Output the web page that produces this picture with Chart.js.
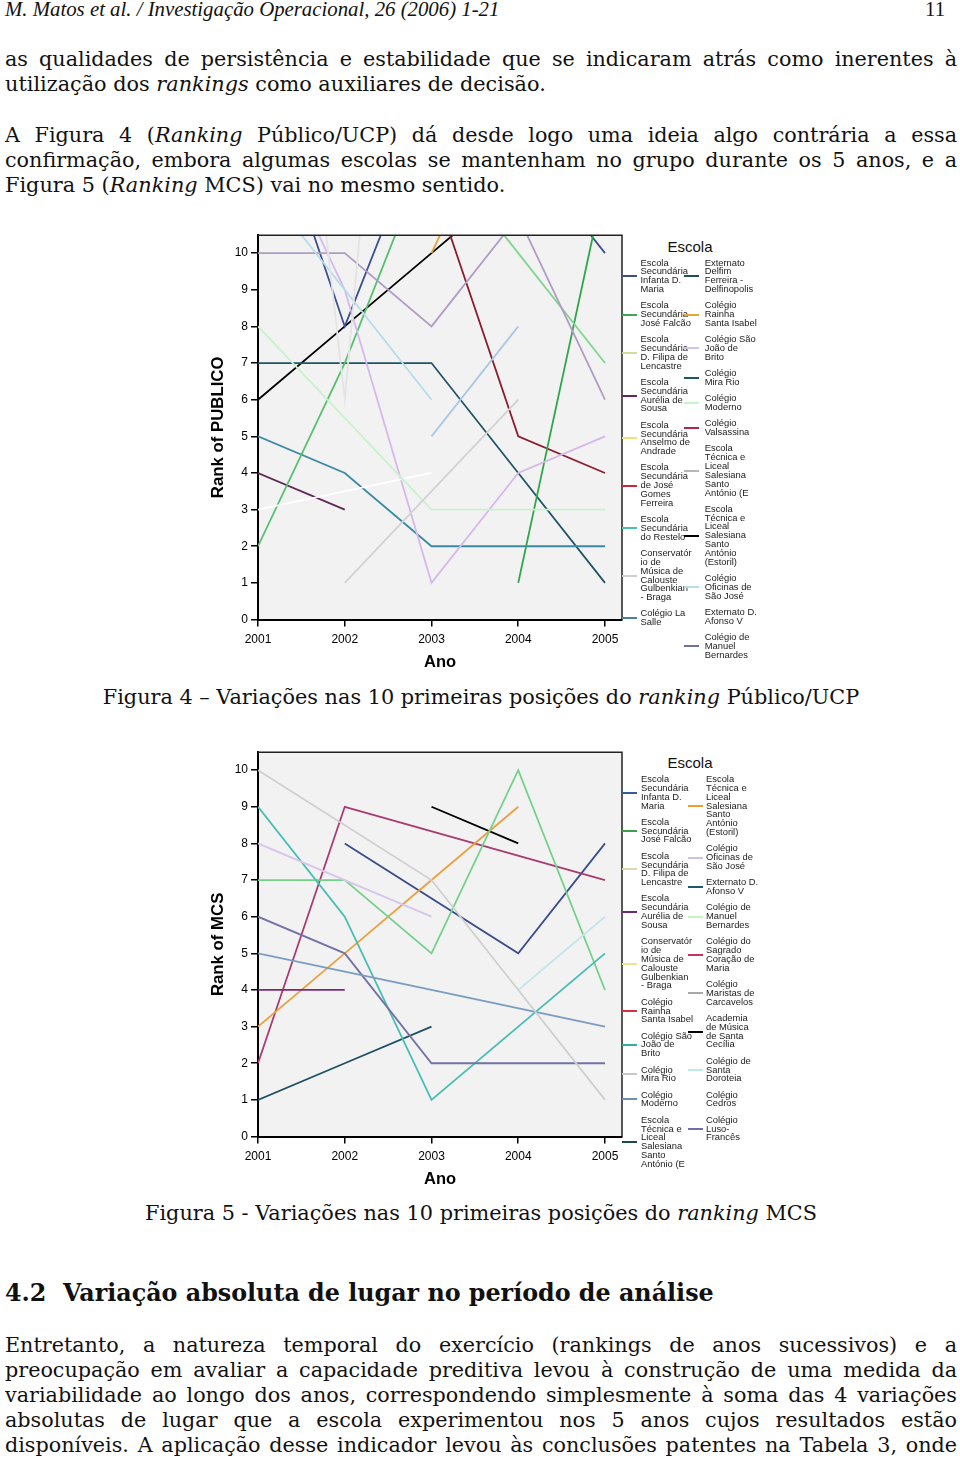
<!DOCTYPE html>
<html lang="pt">
<head>
<meta charset="UTF-8">
<title>Figuras 4 e 5 - variações nos rankings</title>
<script src="https://cdn.jsdelivr.net/npm/chart.js"></script>
<style>
  body { margin: 0; background: #fff; }
  #pagina { position: relative; width: 960px; height: 1461px; overflow: hidden; font-family: 'DejaVu Serif', serif; color: #111; }
  .ln { position: absolute; left: 5px; width: 952px; height: 25px; overflow: hidden; font-size: 20.8px; line-height: 25px; white-space: nowrap; }
  .just { text-align: justify; text-align-last: justify; white-space: normal; }
  .cent { text-align: center; }
  .tit { font-weight: bold; font-size: 23.8px; height: 30px; line-height: 30px; }
  .cabec { position: absolute; top: -1px; font-family: 'Liberation Serif', serif; font-style: italic; font-size: 20.8px; line-height: 20px; }
  .grafico { position: absolute; left: 200px; }
  .legenda { position: absolute; font-family: 'Liberation Sans', Arial, sans-serif; font-size: 9.4px; line-height: 8.85px; color: #222; }
  .legenda .item { position: relative; margin-bottom: 7.4px; white-space: nowrap; }
  .legenda .cor { position: absolute; top: 50%; height: 2px; width: 15px; margin-top: -1px; }
  .titLeg { position: absolute; font-family: 'Liberation Sans', Arial, sans-serif; font-size: 15px; line-height: 15px; width: 80px; text-align: center; color: #111; }
</style>
</head>
<body>
<div id="pagina">
  <div class="cabec" style="left:5px">M. Matos et al. / Investigação Operacional, 26 (2006) 1-21</div>
  <div class="cabec" style="left:925px;font-style:normal">11</div>

  <div class="ln just" style="top:47px">as qualidades de persistência e estabilidade que se indicaram atrás como inerentes à</div>
  <div class="ln" style="top:72px">utilização dos <i>rankings</i> como auxiliares de decisão.</div>

  <div class="ln just" style="top:123px">A Figura 4 (<i>Ranking</i> Público/UCP) dá desde logo uma ideia algo contrária a essa</div>
  <div class="ln just" style="top:148px">confirmação, embora algumas escolas se mantenham no grupo durante os 5 anos, e a</div>
  <div class="ln" style="top:173px">Figura 5 (<i>Ranking</i> MCS) vai no mesmo sentido.</div>

  <canvas id="grafPublico" class="grafico" width="425" height="455" style="top:225px"></canvas>
  <div class="titLeg" style="left:650px;top:239px">Escola</div>
  <div id="legPub1" class="legenda" style="left:640.5px;top:258.5px"></div>
  <div id="legPub2" class="legenda" style="left:704.7px;top:258.5px"></div>
  <div class="ln cent" style="top:685px">Figura 4 – Variações nas 10 primeiras posições do <i>ranking</i> Público/UCP</div>

  <canvas id="grafMcs" class="grafico" width="425" height="455" style="top:742px"></canvas>
  <div class="titLeg" style="left:650px;top:755px">Escola</div>
  <div id="legMcs1" class="legenda" style="left:641px;top:775px"></div>
  <div id="legMcs2" class="legenda" style="left:706px;top:775px"></div>
  <div class="ln cent" style="top:1201px">Figura 5 - Variações nas 10 primeiras posições do <i>ranking</i> MCS</div>

  <div class="ln tit" style="top:1278px">4.2&nbsp; Variação absoluta de lugar no período de análise</div>

  <div class="ln just" style="top:1333px">Entretanto, a natureza temporal do exercício (rankings de anos sucessivos) e a</div>
  <div class="ln just" style="top:1358px">preocupação em avaliar a capacidade preditiva levou à construção de uma medida da</div>
  <div class="ln just" style="top:1383px">variabilidade ao longo dos anos, correspondendo simplesmente à soma das 4 variações</div>
  <div class="ln just" style="top:1408px">absolutas de lugar que a escola experimentou nos 5 anos cujos resultados estão</div>
  <div class="ln just" style="top:1433px">disponíveis. A aplicação desse indicador levou às conclusões patentes na Tabela 3, onde</div>
</div>

<script>
// anos e ticks dos eixos
const years = [2001, 2002, 2003, 2004, 2005];
const rankTicks = [0, 1, 2, 3, 4, 5, 6, 7, 8, 9, 10];

// Figura 4 - ranking Publico/UCP (lugares > 10 saem pelo topo do grafico)
const pubInfanta   = [15, 8, 14, 13, 10];
const pubFalcao    = [2, 7, 13, null, null];
const pubVerde     = [null, null, null, 1, 12];
const pubVerdeClaro = [null, null, 13, 10, 7];
const pubModerno   = [8, null, 3, 3, 3];
const pubBernardes = [10, 10, 8, 11, 6];
const pubEstoril   = [6, 8, 10, 12, null];
const pubRainha    = [null, null, 10, 15, null];
const pubValsassina = [null, null, 12, 5, 4];
const pubOficinas  = [12, 9, 6, null, null];
const pubLaSalle   = [null, null, 5, 8, null];
const pubMiraRio   = [7, 7, 7, 4, 1];
const pubRestelo   = [5, 4, 2, 2, 2];
const pubAurelia   = [4, 3, null, null, null];
const pubAfonso    = [3, null, 4, null, null];
const pubConserv   = [null, 1, null, 6, null];
const pubBrito     = [14, 9, 1, 4, 5];
const pubTecnica   = [27, 6, 32, null, null];

// Figura 5 - ranking MCS
const mcsMiraRio   = [10, null, 7, 4, 1];
const mcsBrito     = [9, 6, 1, 3, 5];
const mcsOficinas  = [8, 7, 6, null, null];
const mcsFalcao    = [7, 7, 5, 10, 4];
const mcsSagrado   = [2, 9, null, null, 7];
const mcsInfanta   = [null, 8, null, 5, 8];
const mcsEstoril   = [3, 5, 7, 9, null];
const mcsAcademia  = [null, null, 9, 8, null];
const mcsLuso      = [6, 5, 2, 2, 2];
const mcsModerno   = [5, null, 4, null, 3];
const mcsAurelia   = [4, 4, null, null, null];
const mcsAfonso    = [1, 2, 3, null, null];
const mcsDoroteia  = [null, null, null, 4, 6];

// legendas (| = quebra de linha como no original)
const legPubNomes1 = ['Escola|Secundária|Infanta D.|Maria', 'Escola|Secundária|José Falcão', 'Escola|Secundária|D. Filipa de|Lencastre',
  'Escola|Secundária|Aurélia de|Sousa', 'Escola|Secundária|Anselmo de|Andrade', 'Escola|Secundária|de José|Gomes|Ferreira',
  'Escola|Secundária|do Restelo', 'Conservatór|io de|Música de|Calouste|Gulbenkian|- Braga', 'Colégio La|Salle'];
const legPubCores1 = ['#3d4f91', '#3aa856', '#d2dc98', '#5e2858', '#f0e27a', '#c8283c', '#4cc0b0', '#d0d0d0', '#4a7fa8'];
const legPubNomes2 = ['Externato|Delfim|Ferreira -|Delfinopolis', 'Colégio|Rainha|Santa Isabel', 'Colégio São|João de|Brito',
  'Colégio|Mira Rio', 'Colégio|Moderno', 'Colégio|Valsassina', 'Escola|Técnica e|Liceal|Salesiana|Santo|António (E',
  'Escola|Técnica e|Liceal|Salesiana|Santo|António|(Estoril)', 'Colégio|Oficinas de|São José', 'Externato D.|Afonso V',
  'Colégio de|Manuel|Bernardes'];
const legPubCores2 = ['#1f4f5a', '#e8a23a', '#d8c0ec', '#1f5566', '#c9f2cc', '#b02850', '#b8b8b8', '#000000', '#b4dcea', '#ffffff', '#7070a0'];

const legMcsNomes1 = ['Escola|Secundária|Infanta D.|Maria', 'Escola|Secundária|José Falcão', 'Escola|Secundária|D. Filipa de|Lencastre',
  'Escola|Secundária|Aurélia de|Sousa', 'Conservatór|io de|Música de|Calouste|Gulbenkian|- Braga', 'Colégio|Rainha|Santa Isabel',
  'Colégio São|João de|Brito', 'Colégio|Mira Rio', 'Colégio|Moderno', 'Escola|Técnica e|Liceal|Salesiana|Santo|António (E'];
const legMcsCores1 = ['#3a5aa0', '#3aa050', '#e0d8a8', '#6a2a70', '#e8e890', '#d83040', '#30b0a0', '#c8c8c8', '#7090b0', '#1a4a40'];
const legMcsNomes2 = ['Escola|Técnica e|Liceal|Salesiana|Santo|António|(Estoril)', 'Colégio|Oficinas de|São José', 'Externato D.|Afonso V',
  'Colégio de|Manuel|Bernardes', 'Colégio do|Sagrado|Coração de|Maria', 'Colégio|Maristas de|Carcavelos', 'Academia|de Música|de Santa|Cecília',
  'Colégio de|Santa|Doroteia', 'Colégio|Cedros', 'Colégio|Luso-|Francês'];
const legMcsCores2 = ['#e8a030', '#d0c0e8', '#205a6a', '#c8f0c0', '#c83060', '#a8a8a8', '#000000', '#c0e8e8', '#ffffff', '#7070a8'];

Chart.defaults.font.family = "'Liberation Sans', Arial, sans-serif";
Chart.defaults.color = '#000';

function serie(dados, cor, saltos) {
    return {
        data: dados,
        borderColor: cor,
        backgroundColor: cor,
        borderWidth: 1.8,
        pointRadius: 0,
        tension: 0,
        fill: false,
        spanGaps: saltos === true
    };
}

// fundo cinzento e moldura da area do grafico
const fundoPlot = {
    id: 'fundoPlot',
    beforeDraw(chart) {
        const { ctx, chartArea: a } = chart;
        ctx.save();
        ctx.fillStyle = '#f2f2f2';
        ctx.fillRect(a.left, a.top, a.right - a.left, a.bottom - a.top);
        ctx.restore();
    },
    afterDraw(chart) {
        const { ctx, chartArea: a } = chart;
        ctx.save();
        ctx.strokeStyle = '#222';
        ctx.lineWidth = 1.5;
        ctx.beginPath();
        ctx.moveTo(a.left, a.top);
        ctx.lineTo(a.right, a.top);
        ctx.lineTo(a.right, a.bottom);
        ctx.stroke();
        ctx.restore();
    }
};

function criaGrafico(idCanvas, tituloY, series) {
    return new Chart(document.getElementById(idCanvas), {
        type: 'line',
        data: { labels: years, datasets: series },
        options: {
            responsive: false,
            animation: false,
            devicePixelRatio: 1,
            layout: { padding: { top: 10, right: 3, bottom: 0, left: 0 } },
            plugins: { legend: { display: false }, tooltip: { enabled: false } },
            scales: {
                x: {
                    type: 'linear',
                    min: 2001,
                    max: 2005.196,
                    afterBuildTicks: s => { s.ticks = years.map(v => ({ value: v })); },
                    afterFit: s => { s.height = 60.5; },
                    ticks: { font: { size: 12 }, padding: 6, maxRotation: 0, autoSkip: false, callback: v => String(v) },
                    grid: { drawOnChartArea: false, drawTicks: true, tickLength: 7, color: '#000', lineWidth: 1.5 },
                    border: { display: true, color: '#000', width: 2 },
                    title: { display: true, text: 'Ano', font: { size: 16.5, weight: 'bold' }, padding: { top: 0, bottom: 8 } }
                },
                y: {
                    min: 0,
                    max: 10.49,
                    afterBuildTicks: s => { s.ticks = rankTicks.map(v => ({ value: v })); },
                    afterFit: s => { s.width = 58; },
                    ticks: { font: { size: 12 }, padding: 3, callback: v => String(v) },
                    grid: { drawOnChartArea: false, drawTicks: true, tickLength: 7, color: '#000', lineWidth: 1.5 },
                    border: { display: true, color: '#000', width: 2 },
                    title: { display: true, text: tituloY, font: { size: 16.8, weight: 'bold' }, padding: { top: 8, bottom: 0 } }
                }
            }
        },
        plugins: [fundoPlot]
    });
}

function montaLegenda(idCaixa, nomes, cores, desvio) {
    const caixa = document.getElementById(idCaixa);
    nomes.forEach((nome, i) => {
        const item = document.createElement('div');
        item.className = 'item';
        item.innerHTML = nome.split('|').join('<br>') +
            `<span class="cor" style="left:${desvio}px;background:${cores[i]}"></span>`;
        caixa.appendChild(item);
    });
}

// linhas justificadas: se a linha nao couber, reduz um pouco a letra
document.querySelectorAll('.just').forEach(el => {
    const s = document.createElement('span');
    s.innerHTML = el.innerHTML;
    el.innerHTML = '';
    el.appendChild(s);
    el.style.whiteSpace = 'nowrap';
    const w = s.getBoundingClientRect().width;
    if (w > 948) {
        el.style.fontSize = (parseFloat(getComputedStyle(el).fontSize) * 948 / w) + 'px';
    }
    el.style.whiteSpace = 'normal';
});

criaGrafico('grafPublico', 'Rank of PUBLICO', [
    serie(pubTecnica, '#e4e4e4'),
    serie(pubConserv, '#d2d2d2', true),
    serie(pubModerno, '#c9f2cc', true),
    serie(pubAfonso, '#ffffff', true),
    serie(pubOficinas, '#b4dcea'),
    serie(pubLaSalle, '#a9c8e6'),
    serie(pubBrito, '#d6b8ea'),
    serie(pubBernardes, '#b09cc4'),
    serie(pubVerdeClaro, '#7fd68f'),
    serie(pubFalcao, '#55c06e'),
    serie(pubVerde, '#2fa54c'),
    serie(pubRestelo, '#3a8aa5'),
    serie(pubMiraRio, '#1f5566'),
    serie(pubAurelia, '#5e2858'),
    serie(pubInfanta, '#3d4f91'),
    serie(pubValsassina, '#8c1c30'),
    serie(pubRainha, '#e8a23a'),
    serie(pubEstoril, '#000000')
]);

criaGrafico('grafMcs', 'Rank of MCS', [
    serie(mcsMiraRio, '#cfcfcf', true),
    serie(mcsDoroteia, '#c4e6ea'),
    serie(mcsOficinas, '#d9c4ec'),
    serie(mcsModerno, '#7a9cc0', true),
    serie(mcsLuso, '#7472a4'),
    serie(mcsBrito, '#45bdb3'),
    serie(mcsFalcao, '#74d08a'),
    serie(mcsAfonso, '#1f4f63'),
    serie(mcsAurelia, '#7a2a78'),
    serie(mcsEstoril, '#eaa040'),
    serie(mcsSagrado, '#a83c70', true),
    serie(mcsInfanta, '#3a4c8c', true),
    serie(mcsAcademia, '#000000')
]);

montaLegenda('legPub1', legPubNomes1, legPubCores1, -18.5);
montaLegenda('legPub2', legPubNomes2, legPubCores2, -20.5);
montaLegenda('legMcs1', legMcsNomes1, legMcsCores1, -19);
montaLegenda('legMcs2', legMcsNomes2, legMcsCores2, -18);
</script>
</body>
</html>
